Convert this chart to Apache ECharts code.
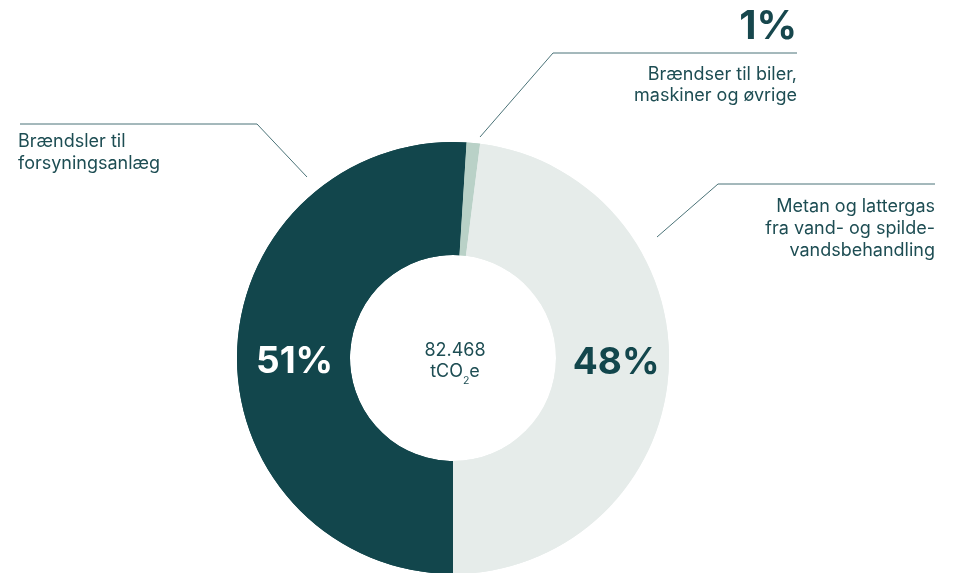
<!DOCTYPE html>
<html>
<head>
<meta charset="utf-8">
<script src="https://cdn.jsdelivr.net/npm/echarts@6/dist/echarts.min.js"></script>
<style>
html,body{margin:0;padding:0;background:#fff;}
#chart{width:957px;height:573px;}
</style>
</head>
<body>
<div id="chart"></div>
<script>
// Data
const categories = ['Brændsler til\nforsyningsanlæg', 'Brændser til biler,\nmaskiner og øvrige', 'Metan og lattergas\nfra vand- og spilde-\nvandsbehandling'];
const shares = [51, 1, 48];
const percentLabels = ['51%', '1%', '48%'];
const totalLabel = '82.468';

const colors = ['#12464c', '#b9d1c7', '#e6ecea'];
const textColor = '#1d4d53';
const lineColor = '#4b7378';
const FONT = 'Inter';

const CX = 453, CY = 358, R0 = 103, R1 = 216;

const data = categories.map((c, i) => ({ name: c, value: shares[i], itemStyle: { color: colors[i] } }));

// Label placements (annotation layout only)
const outerLayout = [
  { x: 18, y: 131, align: 'left', verticalAlign: 'top', pts: [[307, 177], [257, 124], [20, 124]] },
  { x: 797, y: 5, align: 'right', verticalAlign: 'top', pts: [[480, 137], [553, 53], [797, 53]] },
  { x: 935, y: 196, align: 'right', verticalAlign: 'top', pts: [[657, 237], [718, 184], [935, 184]] }
];

const chart = echarts.init(document.getElementById('chart'));
chart.setOption({
  backgroundColor: '#fff',
  animation: false,
  series: [
    {
      type: 'pie',
      center: [CX, CY],
      radius: [R0, R1],
      startAngle: 270,
      clockwise: true,
      silent: true,
      data: data,
      label: {
        show: true,
        position: 'outside',
        fontFamily: FONT,
        fontSize: 18,
        lineHeight: 21.7,
        color: textColor,
        formatter: function (p) {
          if (p.dataIndex === 1) {
            return '{big|' + percentLabels[1] + '}\n{gap| }\n{txt|' + p.name.split('\n').join('}\n{txt|') + '}';
          }
          return p.name;
        },
        rich: {
          big: { fontFamily: FONT, fontSize: 40, fontWeight: 700, lineHeight: 44, color: '#17474d', align: 'right' },
          gap: { fontSize: 10, lineHeight: 15.5 },
          txt: { fontFamily: FONT, fontSize: 18, lineHeight: 21, color: textColor, align: 'right' }
        }
      },
      labelLine: { show: true, lineStyle: { color: lineColor, width: 1 } },
      labelLayout: function (params) {
        const o = outerLayout[params.dataIndex];
        return { x: o.x, y: o.y, align: o.align, verticalAlign: o.verticalAlign, labelLinePoints: o.pts };
      }
    },
    {
      type: 'pie',
      center: [CX, CY],
      radius: [R0, R1],
      startAngle: 270,
      clockwise: true,
      silent: true,
      data: data.map((d, i) => Object.assign({}, d, { label: { color: i === 0 ? '#ffffff' : '#12464c' } })),
      label: {
        show: true,
        position: 'inside',
        fontFamily: FONT,
        fontSize: 37,
        fontWeight: 700,
        formatter: function (p) { return p.dataIndex === 1 ? '' : percentLabels[p.dataIndex]; }
      },
      labelLine: { show: false },
      labelLayout: function (params) {
        if (params.dataIndex === 0) return { dx: 4, dy: 9 };
        if (params.dataIndex === 2) return { dx: 1, dy: -5 };
        return {};
      }
    }
  ],
  graphic: [
    {
      type: 'text',
      x: CX + 2,
      y: CY + 5,
      style: {
        text: '{n|' + totalLabel + '}\n{n|tCO}{sub|2}{n|e}',
        textAlign: 'center',
        textVerticalAlign: 'middle',
        fill: textColor,
        rich: {
          n: { fontFamily: FONT, fontSize: 18, lineHeight: 21, verticalAlign: 'top', fill: textColor },
          sub: { fontFamily: FONT, fontSize: 10.5, lineHeight: 10, padding: [12, 0, 0, 0], verticalAlign: 'top', fill: textColor }
        }
      }
    }
  ]
});
</script>
</body>
</html>
